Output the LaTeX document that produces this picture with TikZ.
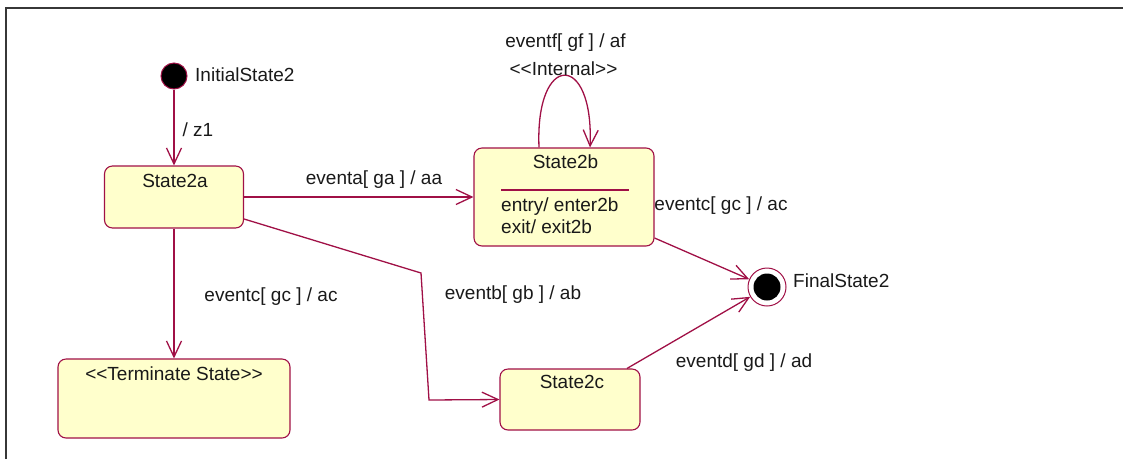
\documentclass[tikz,border=0pt]{standalone}
\usepackage{fontspec}
\setmainfont{Liberation Sans}[Ligatures=TeXOff]
\usetikzlibrary{arrows.meta}

\definecolor{umlred}{RGB}{160,16,70}
\definecolor{umlfill}{RGB}{255,255,204}
\definecolor{umlframe}{RGB}{55,55,55}

\tikzset{
	umltext/.style={font=\fontsize{19}{23}\selectfont, text=black!90, inner sep=0pt, anchor=base},
	state/.style={draw=umlred, fill=umlfill, rounded corners=8pt, line width=1.1pt, inner sep=0pt},
	trans/.style={draw=umlred, line width=1.3pt, -{Straight Barb[length=16pt,width=15pt]}}
}

\begin{document}
\begin{tikzpicture}[x=1pt, y=-1pt]
	\useasboundingbox (0,0) rectangle (1123,459);
	\draw [umlframe, line width=2.2pt] (6,459) -- (6,8) -- (1123,8);

	% (1) - states
	\node [circle, fill=black, draw=umlred, line width=1pt, minimum size=26, inner sep=0pt] (init) at (174,76) {};
	\node [state, minimum width=139, minimum height=62] (s2a) at (174,197) {};
	\node [state, minimum width=180, minimum height=98] (s2b) at (564,197) {};
	\node [state, minimum width=232, minimum height=79] (term) at (174,398.5) {};
	\node [state, minimum width=140, minimum height=61] (s2c) at (570,399.5) {};
	\node [circle, draw=umlred, fill=white, line width=1pt, minimum size=38, inner sep=0pt] (final) at (767,287) {};
	\node [circle, fill=black, minimum size=27, inner sep=0pt] (finaldot) at (final) {};

	% (2) - texts of the states
	\node [umltext] (s2aname) at (175,187) {State2a};
	\node [umltext] (s2bname) at (565.5,168) {State2b};
	\draw [umlred, line width=1.1pt] (501,190) -- (629,190);
	\node [umltext, anchor=base west] (s2bentry) at (501,211) {entry/ enter2b};
	\node [umltext, anchor=base west] (s2bexit) at (501,233) {exit/ exit2b};
	\node [umltext] (termname) at (174,380) {<<Terminate State>>};
	\node [umltext] (s2cname) at (572,388) {State2c};
	\node [umltext, anchor=base west] (initname) at (195,81) {InitialState2};
	\node [umltext, anchor=base west] (finalname) at (793,287) {FinalState2};

	% (3) - transitions
	\coordinate (bendb1) at (421,273);
	\coordinate (bendb2) at (429,400);
	\draw [trans] (init) -- (s2a.north);
	\draw [trans] (s2a.east) -- (s2b.west);
	\draw [trans] ([yshift=-22pt]s2a.east) -- (bendb1) -- (bendb2) -- (s2c.west);
	\draw [trans] (s2a.south) -- (term.north);
	\draw [trans] ([xshift=-25pt]s2b.north) .. controls +(-4,-96) and +(4,-96) .. ([xshift=26pt]s2b.north);
	\draw [trans] ([yshift=-41pt]s2b.east) -- (final);
	\draw [trans] ([xshift=57pt]s2c.north) -- (final);

	% (4) - labels of the transitions
	\node [umltext] (z1lbl) at (198,136) {/ z1};
	\node [umltext] (evalbl) at (374,184) {eventa[ ga ] / aa};
	\node [umltext] (evblbl) at (513,299) {eventb[ gb ] / ab};
	\node [umltext] (evcalbl) at (271,301) {eventc[ gc ] / ac};
	\node [umltext] (evcblbl) at (721,210) {eventc[ gc ] / ac};
	\node [umltext] (evdlbl) at (744,367) {eventd[ gd ] / ad};
	\node [umltext] (evflbl) at (565.5,47) {eventf[ gf ] / af};
	\node [umltext] (intlbl) at (563.5,75) {<<Internal>>};
\end{tikzpicture}
\end{document}
